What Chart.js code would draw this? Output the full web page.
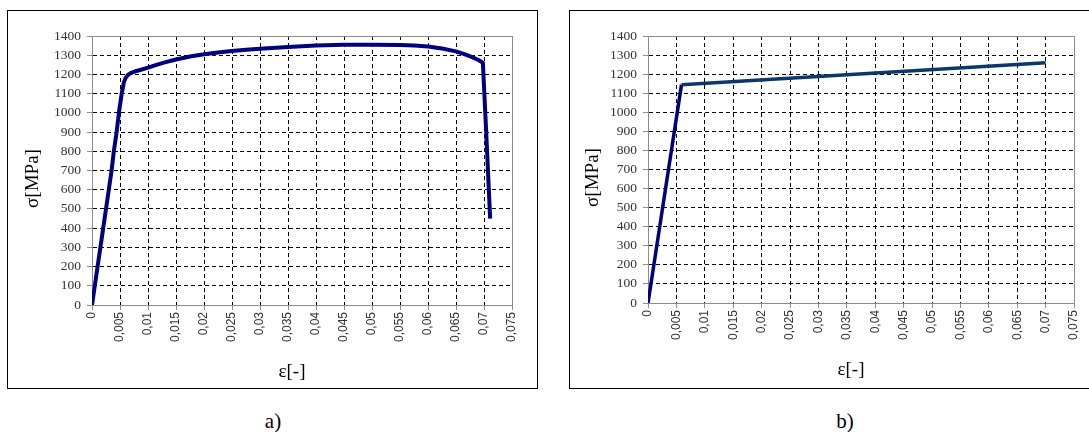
<!DOCTYPE html>
<html>
<head>
<meta charset="utf-8">
<script src="https://cdn.jsdelivr.net/npm/chart.js@4/dist/chart.umd.min.js"></script>
<style>
  html, body { margin:0; padding:0; background:#fff; width:1089px; height:432px; overflow:hidden; }
  .box { position:absolute; top:10px; height:377px; border:1px solid #000; background:#fff; }
  #boxA { left:7px; width:529px; }
  #boxB { left:569px; width:528px; }
  .box canvas { display:block; }
  .cap { position:absolute; font-family:"Liberation Serif", serif; font-size:21px; color:#000; transform:translate(-50%,-50%); }
</style>
</head>
<body>
<div class="box" id="boxA"><canvas id="chartA" width="529" height="377"></canvas></div>
<div class="box" id="boxB"><canvas id="chartB" width="528" height="377"></canvas></div>
<div class="cap" style="left:273px; top:421px;">a)</div>
<div class="cap" style="left:845px; top:421px;">b)</div>
<script>
// ---- data ----
const strainA = [0, 0.0005, 0.001, 0.0015, 0.002, 0.0025, 0.003, 0.0035, 0.0039, 0.0044, 0.0048, 0.0053, 0.0057, 0.0060, 0.0064, 0.0069, 0.0076, 0.0086, 0.01, 0.0115, 0.013, 0.015, 0.0175, 0.02, 0.0225, 0.025, 0.0275, 0.03, 0.035, 0.04, 0.045, 0.05, 0.055, 0.0575, 0.06, 0.0625, 0.065, 0.0665, 0.068, 0.069, 0.0698, 0.0704, 0.0711];
const stressA = [0, 100, 200, 300, 400, 500, 600, 700, 800, 900, 1000, 1100, 1160, 1182, 1197, 1207, 1215, 1223, 1235, 1250, 1263, 1278, 1293, 1305, 1314, 1322, 1328, 1334, 1343, 1350, 1354, 1355, 1353, 1350, 1345, 1335, 1320, 1306, 1289, 1275, 1261, 895, 450];
const strainB = [0, 0.0059, 0.07];
const stressB = [0, 1145, 1260];
const yTickLabels = ['0','100','200','300','400','500','600','700','800','900','1000','1100','1200','1300','1400'];
const xTickLabels = ['0','0,005','0,01','0,015','0,02','0,025','0,03','0,035','0,04','0,045','0,05','0,055','0,06','0,065','0,07','0,075'];
const xTitle = 'ε[-]';
const yTitle = 'σ[MPa]';

function pts(xs, ys) { return xs.map((x, i) => ({x: x, y: ys[i]})); }

const framePlugin = {
  id: 'frame',
  beforeDatasetsDraw(chart) {
    const a = chart.chartArea, ctx = chart.ctx;
    ctx.save();
    ctx.strokeStyle = '#8c8c8c';
    ctx.lineWidth = 1;
    ctx.strokeRect(Math.round(a.left) + 0.5, Math.round(a.top) + 0.5, Math.round(a.right - a.left), Math.round(a.bottom - a.top));
    ctx.restore();
  }
};

const titlePlugin = {
  id: 'axTitles',
  afterDraw(chart, args, opts) {
    const a = chart.chartArea, ctx = chart.ctx;
    ctx.save();
    ctx.fillStyle = '#000';
    ctx.font = '19px "Liberation Serif", serif';
    ctx.textAlign = 'center';
    ctx.textBaseline = 'middle';
    ctx.fillText(xTitle, (a.left + a.right) / 2 + opts.xOff, opts.xY);
    ctx.translate(opts.yX, (a.top + a.bottom) / 2 + 8);
    ctx.rotate(-Math.PI / 2);
    ctx.fillText(yTitle, 0, 0);
    ctx.restore();
  }
};

function makeOptions(yWidth, xHeight, padRight, titleOpts) {
  const edgeTransparent = (c, max) => {
    const v = c.tick ? c.tick.value : null;
    return (v === 0 || Math.abs(v - max) < 1e-9) ? 'rgba(0,0,0,0)' : '#000';
  };
  return {
    responsive: false,
    animation: false,
    layout: { padding: { left: 0, right: padRight, top: 25, bottom: 0 } },
    plugins: { legend: { display: false }, tooltip: { enabled: false }, axTitles: titleOpts },
    scales: {
      x: {
        type: 'linear', min: 0, max: 0.075,
        afterFit: s => { s.height = xHeight; },
        ticks: {
          stepSize: 0.005, autoSkip: false, maxRotation: 90, minRotation: 90, padding: 2,
          color: '#333', font: { family: '"Liberation Sans", Arial, sans-serif', size: 12 },
          callback: (v, i) => xTickLabels[i]
        },
        grid: { color: c => edgeTransparent(c, 0.075), lineWidth: 1, tickLength: 5, tickColor: '#8c8c8c', tickBorderDash: [] },
        border: { display: true, color: '#8c8c8c', width: 1, dash: [4, 3] }
      },
      y: {
        type: 'linear', min: 0, max: 1400,
        afterFit: s => { s.width = yWidth; },
        ticks: {
          stepSize: 100, autoSkip: false, padding: 6,
          color: '#333', font: { family: '"Liberation Serif", "Times New Roman", serif', size: 13.5 },
          callback: (v, i) => yTickLabels[i]
        },
        grid: { color: c => edgeTransparent(c, 1400), lineWidth: 1, tickLength: 5, tickColor: '#8c8c8c', tickBorderDash: [] },
        border: { display: true, color: '#8c8c8c', width: 1, dash: [4, 3] }
      }
    }
  };
}

new Chart(document.getElementById('chartA'), {
  type: 'line',
  data: { datasets: [{
    data: pts(strainA, stressA),
    borderColor: '#00007f', borderWidth: 4, pointRadius: 0, tension: 0,
    borderJoinStyle: 'round', borderCapStyle: 'butt', fill: false
  }] },
  options: makeOptions(84, 83, 25, { xOff: -10, xY: 361, yX: 25 }),
  plugins: [framePlugin, titlePlugin]
});

new Chart(document.getElementById('chartB'), {
  type: 'line',
  data: { datasets: [{
    data: pts(strainB, stressB),
    borderColor: '#00007f', borderWidth: 3.5, pointRadius: 0, tension: 0,
    borderJoinStyle: 'miter', fill: false,
    segment: { borderColor: c => c.p0DataIndex === 1 ? '#0b3868' : '#00007f' }
  }] },
  options: makeOptions(78, 85, 24, { xOff: -10, xY: 359, yX: 23 }),
  plugins: [framePlugin, titlePlugin]
});
</script>
</body>
</html>
